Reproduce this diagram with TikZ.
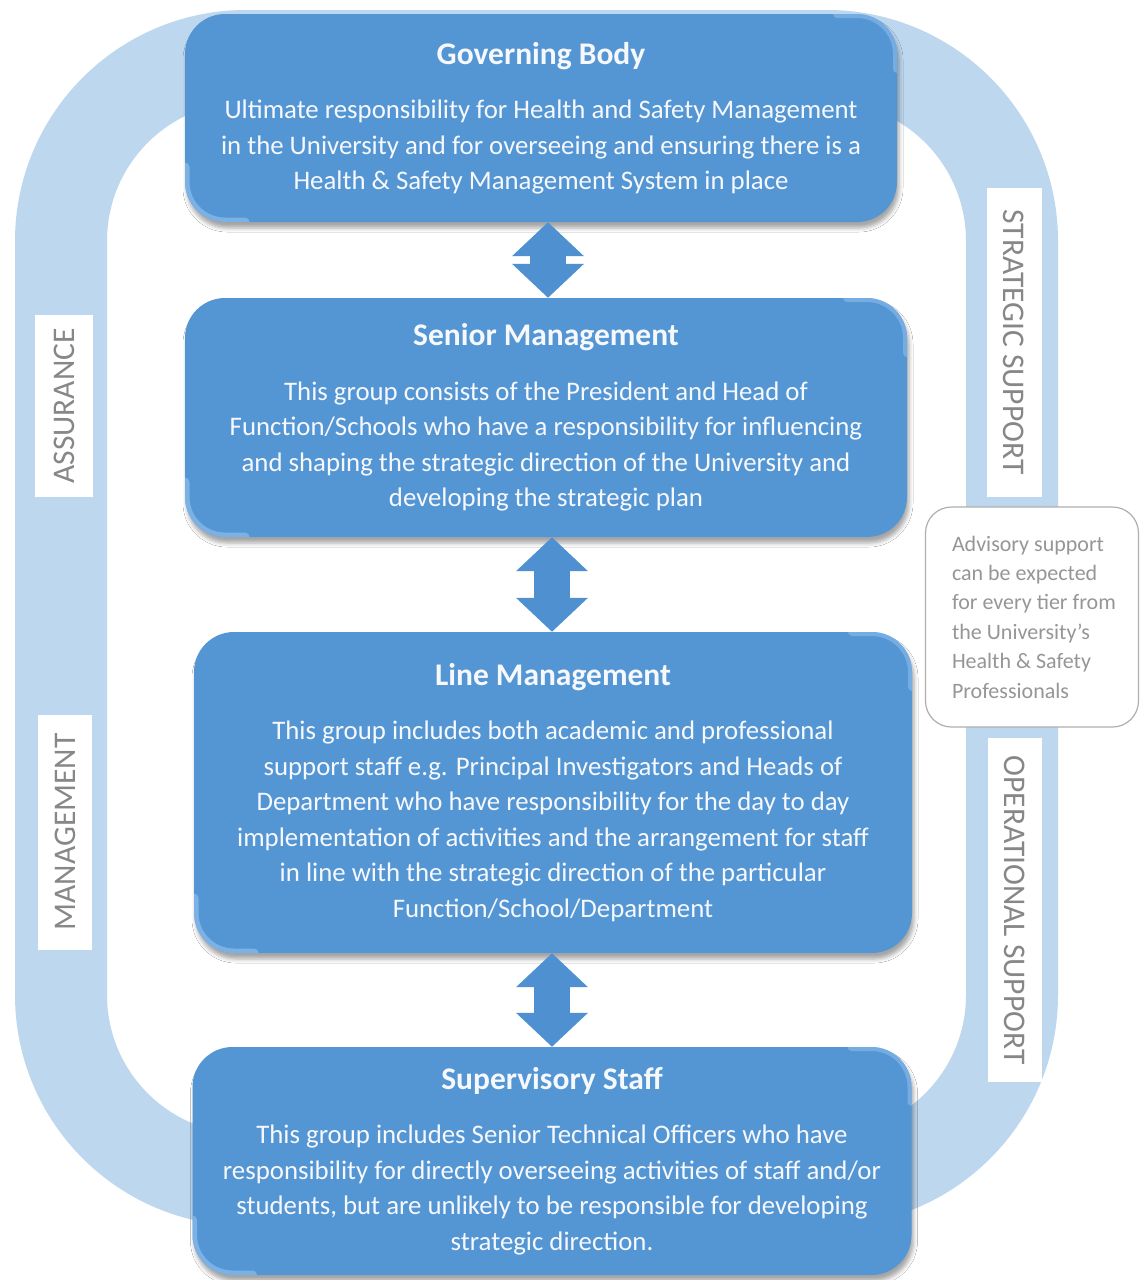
\documentclass[tikz,border=0pt]{standalone}
\usepackage{fontspec}
\setmainfont{Carlito}
\usetikzlibrary{arrows.meta,shadows.blur}
\definecolor{ringblue}{RGB}{189,215,238}
\definecolor{tierblue}{RGB}{84,150,212}
\definecolor{arrowblue}{RGB}{78,144,208}
\definecolor{labelgray}{RGB}{135,135,135}
\definecolor{advgray}{RGB}{150,150,150}
\definecolor{advborder}{RGB}{175,175,175}
\definecolor{tiertext}{RGB}{246,248,252}
\definecolor{bevel}{RGB}{150,195,240}
\newcommand{\tiertitle}[1]{{\fontsize{31.5}{35.5}\selectfont\bfseries #1}}
\begin{document}
\begin{tikzpicture}[x=1pt,y=-1pt,
  ring/.style={draw=ringblue, line width=92pt, rounded corners=185pt},
  tier/.style={rounded corners=40pt, fill=tierblue, text=tiertext, align=center,
    inner sep=0pt, font=\fontsize{26.8}{35.5}\selectfont,
    blur shadow={shadow xshift=2pt, shadow yshift=-6pt, shadow blur radius=4pt, shadow opacity=35},
    path picture={
      \draw[bevel, line width=9pt, rounded corners=40pt, line cap=round, opacity=0.6]
        ([yshift=55pt]path picture bounding box.south west) -- (path picture bounding box.south west)
        -- ([xshift=60pt]path picture bounding box.south west);
      \draw[bevel, line width=8pt, rounded corners=40pt, line cap=round, opacity=0.5]
        ([xshift=-60pt]path picture bounding box.north east) -- (path picture bounding box.north east)
        -- ([yshift=-55pt]path picture bounding box.north east);
    }},
  sidelabel/.style={fill=white, text=labelgray, inner sep=0pt, font=\fontsize{31.5}{31.5}\selectfont},
  advbox/.style={draw=advborder, line width=1.2pt, fill=white, rounded corners=26pt,
    text=advgray, align=left, inner sep=0pt, font=\fontsize{22}{29.4}\selectfont},
  dblarrow/.style={draw=arrowblue, line width=36pt,
    {Triangle[width=70pt,length=34pt]}-{Triangle[width=70pt,length=34pt]}}
]
\useasboundingbox (0,0) rectangle (1140,1280);
\fill[white] (0,0) rectangle (1140,1280);

% background ring
\draw[ring] (61,56) rectangle (1012,1180);

% side labels
\node[sidelabel, rotate=90, minimum width=182pt, minimum height=58pt] (assur) at (64,406) {ASSURANCE};
\node[sidelabel, rotate=90, minimum width=235pt, minimum height=54pt] (mgmt) at (65,832) {MANAGEMENT};
\node[sidelabel, rotate=-90, minimum width=309pt, minimum height=55pt] (strat) at (1014,342) {STRATEGIC SUPPORT};
\node[sidelabel, rotate=-90, minimum width=344pt, minimum height=54pt] (oper) at (1015,910) {OPERATIONAL SUPPORT};

% advisory box
\node[advbox, minimum width=213pt, minimum height=220pt] (adv) at (1032,617)
  {\hspace*{20pt}\parbox{180pt}{\raggedright Advisory support\\ can be expected\\ for every tier from\\ the University’s\\ Health \& Safety\\ Professionals}};

% tiers
\node[tier, minimum width=712pt, minimum height=208pt] (gov) at (541,118)
  {\tiertitle{Governing Body}\\[19pt]
   Ultimate responsibility for Health and Safety Management\\
   in the University and for overseeing and ensuring there is a\\
   Health \& Safety Management System in place};

\node[tier, minimum width=722pt, minimum height=239pt] (sen) at (546,417.5)
  {\tiertitle{Senior Management}\\[19pt]
   This group consists of the President and Head of\\
   Function/Schools who have a responsibility for influencing\\
   and shaping the strategic direction of the University and\\
   developing the strategic plan};

\node[tier, minimum width=718pt, minimum height=321pt] (line) at (553,792.5)
  {\tiertitle{Line Management}\\[19pt]
   This group includes both academic and professional\\
   support staff e.g. Principal Investigators and Heads of\\
   Department who have responsibility for the day to day\\
   implementation of activities and the arrangement for staff\\
   in line with the strategic direction of the particular\\
   Function/School/Department};

\node[tier, minimum width=719pt, minimum height=228pt] (sup) at (552,1161)
  {\tiertitle{Supervisory Staff}\\[19pt]
   This group includes Senior Technical Officers who have\\
   responsibility for directly overseeing activities of staff and/or\\
   students, but are unlikely to be responsible for developing\\
   strategic direction.};

% connectors
\draw[dblarrow] ([xshift=7pt]gov.south) -- ([xshift=2pt]sen.north);
\draw[dblarrow] ([xshift=6pt]sen.south) -- ([xshift=-1pt]line.north);
\draw[dblarrow] ([xshift=-1pt]line.south) -- ([xshift=0pt]sup.north);
\end{tikzpicture}
\end{document}
